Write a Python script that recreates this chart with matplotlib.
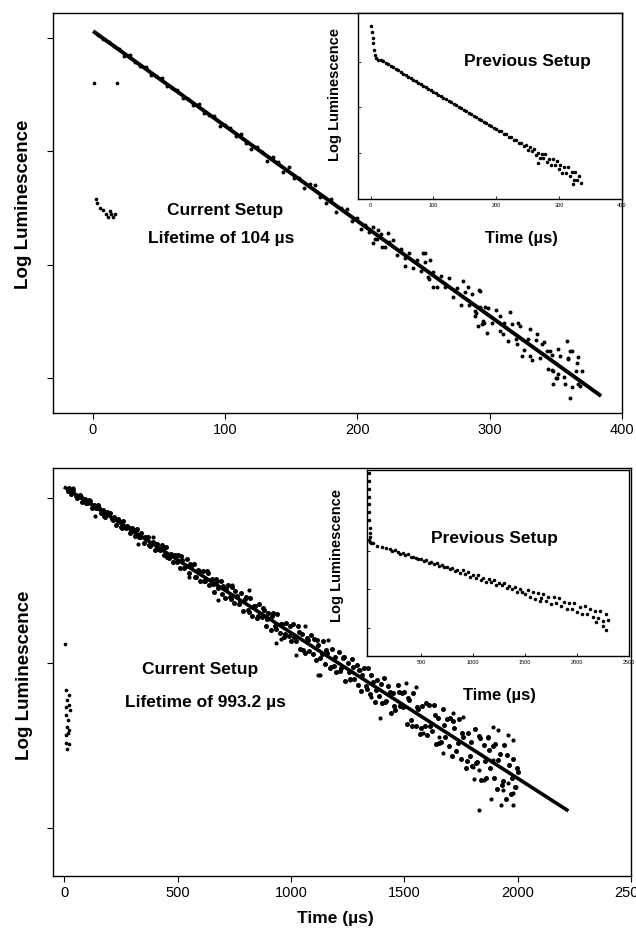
import matplotlib
matplotlib.use("Agg")
import matplotlib.pyplot as plt

plt.rcParams["font.family"] = ["Liberation Sans", "DejaVu Sans"]

# ---------------- painel superior: setup atual (0-400 us) ----------------
cur1_early_t = [1, 18, 2.3, 3.5, 5.3, 7.8, 10, 11.5, 13, 14, 15, 16.5]
cur1_early_y = [3.60, 3.60, 2.58, 2.54, 2.50, 2.48, 2.45, 2.42, 2.47, 2.45, 2.42, 2.45]

cur1_t = [4, 8, 12, 16,
          20, 24, 28, 32, 36, 40, 44, 48, 52, 56, 60, 64, 68, 72, 76, 80,
          84, 88, 92, 96, 100, 104, 108, 112, 116, 120, 124, 128, 132, 136,
          140, 144, 148, 152, 156, 160, 164, 168, 172, 176, 180, 184, 188,
          192, 196,
          200, 203, 206, 209, 212, 215, 218, 221, 224, 227, 230, 233, 236,
          239, 242, 245, 248, 251, 254, 257, 260, 263, 266, 269, 272, 275,
          278, 281, 284, 287, 290, 293, 296, 299, 302, 305, 308, 311, 314,
          317, 320, 323, 326, 329, 332, 335, 338, 341, 344, 347, 350, 353,
          356, 359, 362, 365, 368]
cur1_y = [4.03, 3.99, 3.96, 3.93,
          3.902, 3.838, 3.845, 3.791, 3.748, 3.744, 3.670, 3.667, 3.643,
          3.580, 3.556, 3.542, 3.469, 3.465, 3.412, 3.418, 3.334, 3.321,
          3.307, 3.224, 3.230, 3.206, 3.133, 3.149, 3.076, 3.022, 3.038,
          2.995, 2.911, 2.948, 2.904, 2.820, 2.857, 2.763, 2.760, 2.676,
          2.712, 2.699, 2.595, 2.542, 2.578, 2.464, 2.501, 2.487, 2.384,
          2.410, 2.315, 2.350, 2.284, 2.329, 2.224, 2.269, 2.154, 2.198,
          2.213, 2.088, 2.133, 2.058, 2.102, 1.967, 2.042, 1.947, 2.022,
          1.876, 1.931, 1.806, 1.901, 1.806, 1.880, 1.715, 1.790, 1.645,
          1.760, 1.644, 1.739, 1.574, 1.629, 1.484, 1.618, 1.483, 1.598,
          1.413, 1.488, 1.322, 1.477, 1.342, 1.457, 1.242, 1.346, 1.161,
          1.336, 1.171, 1.316, 1.080, 1.205, 1.000, 1.195, 1.010, 1.174,
          0.919, 1.064, 0.929]

cur1_out_t = [215.7, 213.2, 236, 251, 254.8, 253.5, 257.3, 280, 283.8, 292.6,
              293.9, 297.7, 296.4, 307.8, 315.3, 321.6, 310.3, 320.4, 330.4,
              324.1, 330.4, 335.5, 339.3, 345.6, 351.8, 358.2, 360.7, 359.4,
              365.7, 369.5, 348.1, 348.1, 357, 360.7, 367, 350.6, 212, 219,
              223.3, 249.8, 288.8, 291.3, 295, 292.1, 288.8, 343.1, 346.8,
              351.8, 361.9, 367]
cur1_out_y = [2.307, 2.227, 1.991, 2.10, 2.04, 1.888, 1.80, 1.858, 1.80, 1.77,
              1.475, 1.40, 1.622, 1.549, 1.578, 1.48, 1.387, 1.298, 1.195,
              1.195, 1.43, 1.387, 1.298, 1.239, 1.254, 1.327, 1.239, 1.165,
              1.135, 1.062, 1.062, 0.944, 0.944, 0.826, 0.944, 1.0, 2.19, 2.153,
              2.277, 2.10, 1.549, 1.46, 1.504, 1.776, 1.593, 1.239, 1.068,
              1.033, 1.239, 1.186]

cur1_fit_t = [1.5, 383]
cur1_fit_y = [4.05, 0.85]

# inset superior: setup anterior (0-400 us)
prev1_t = [1.1, 2.1, 3.7, 3.7, 4.8, 6.4, 9, 12,
           16, 20, 24, 28, 32, 36, 40, 44, 48, 52, 56, 60, 64, 68, 72, 76,
           80, 84, 88, 92, 96, 100, 104, 108, 112, 116, 120, 124, 128, 132,
           136, 140, 144, 148, 152, 156, 160, 164, 168, 172, 176, 180, 184,
           188, 192, 196, 200, 204, 208, 212, 216, 220, 224, 228, 232, 236,
           240, 244,
           248, 251, 254, 257, 260, 263, 266, 269, 272, 275, 278, 281, 284,
           287, 290, 293, 296, 299, 302, 305, 308, 311, 314, 317, 320, 323,
           326, 329, 332, 335, 266, 322]
prev1_y = [3.79, 3.67, 3.52, 3.41, 3.26, 3.15, 3.08, 3.05,
           3.044, 3.016, 2.972, 2.950, 2.905, 2.884, 2.840, 2.818, 2.785,
           2.741, 2.719, 2.676, 2.653, 2.609, 2.588, 2.543, 2.521, 2.478,
           2.456, 2.411, 2.390, 2.345, 2.323, 2.280, 2.258, 2.213, 2.192,
           2.147, 2.126, 2.080, 2.060, 2.015, 1.994, 1.948, 1.928, 1.882,
           1.862, 1.816, 1.796, 1.750, 1.731, 1.684, 1.664, 1.618, 1.599,
           1.551, 1.533, 1.486, 1.468, 1.419, 1.402, 1.353, 1.336, 1.287,
           1.270, 1.220, 1.205, 1.154,
           1.160, 1.065, 1.131, 1.036, 1.091, 0.956, 1.002, 0.887, 0.972,
           0.877, 0.963, 0.798, 0.863, 0.728, 0.854, 0.719, 0.824, 0.639,
           0.735, 0.560, 0.695, 0.560, 0.686, 0.481, 0.576, 0.401, 0.567,
           0.402, 0.487, 0.322, 0.78, 0.30]

# ---------------- painel inferior: setup atual (0-2500 us) ----------------
cur2_early_t = [3, 7, 22, 12, 19, 7, 23, 9, 16, 12, 19, 7, 16, 9, 19, 12]
cur2_early_y = [2.115, 1.836, 1.806, 1.776, 1.745, 1.735, 1.715, 1.685,
                1.655, 1.614, 1.594, 1.564, 1.574, 1.513, 1.509, 1.477]

cur2_t = [20, 30, 40, 50, 60, 70, 80, 90,
          100, 110, 120, 130, 140, 150, 160, 170, 180, 190,
          200, 210, 220, 230, 240, 250, 260, 270, 280, 290,
          300, 310, 320, 330, 340, 350, 360, 370, 380, 390,
          400, 410, 420, 430, 440, 450, 460, 470, 480, 490,
          500, 510, 520, 530, 540, 550, 560, 570, 580, 590,
          600, 610, 620, 630, 640, 650, 660, 670, 680, 690,
          700, 710, 720, 730, 740, 750, 760, 770, 780, 790,
          800, 810, 820, 830, 840, 850, 860, 870, 880, 890,
          900, 910, 920, 930, 940, 950, 960, 970, 980, 990,
          1000, 1010, 1020, 1030, 1040, 1050, 1060, 1070, 1080, 1090,
          1100, 1110, 1120, 1130, 1140, 1150, 1160, 1170, 1180, 1190,
          1200, 1210, 1220, 1230, 1240, 1250, 1260, 1270, 1280, 1290,
          1300, 1310, 1320, 1330, 1340, 1350, 1360, 1370, 1380, 1390,
          1400, 1410, 1420, 1430, 1440, 1450, 1460, 1470, 1480, 1490,
          1500, 1510, 1520, 1530, 1540, 1550, 1560, 1570, 1580, 1590,
          1600, 1610, 1620, 1630, 1640, 1650, 1660, 1670, 1680, 1690,
          1700, 1710, 1720, 1730, 1740, 1750, 1760, 1770, 1780, 1790,
          1800, 1810, 1820, 1830, 1840, 1850, 1860, 1870, 1880, 1890,
          1900, 1910, 1920, 1930, 1940, 1950, 1960, 1970, 1980, 1990, 2000]
cur2_y = [3.056, 3.023, 3.049, 3.010, 3.011, 3.017, 2.973, 2.995,
          2.966, 2.987, 2.938, 2.959, 2.935, 2.957, 2.908, 2.924, 2.885, 2.911,
          2.908, 2.869, 2.885, 2.836, 2.862, 2.823, 2.860, 2.816, 2.822, 2.788,
          2.814, 2.770, 2.812, 2.763, 2.784, 2.725, 2.756, 2.762, 2.709, 2.730,
          2.681, 2.722, 2.683, 2.714, 2.656, 2.702, 2.633, 2.659, 2.610, 2.651,
          2.653, 2.574, 2.625, 2.576, 2.632, 2.544, 2.580, 2.601, 2.522, 2.563,
          2.495, 2.556, 2.497, 2.558, 2.469, 2.510, 2.432, 2.508, 2.454, 2.495,
          2.467, 2.393, 2.469, 2.400, 2.461, 2.362, 2.408, 2.355, 2.421, 2.317,
          2.398, 2.320, 2.396, 2.282, 2.343, 2.274, 2.355, 2.277, 2.323, 2.224,
          2.300, 2.201, 2.302, 2.224, 2.295, 2.181, 2.237, 2.158, 2.239, 2.160,
          2.132, 2.233, 2.134, 2.225, 2.087, 2.178, 2.059, 2.150, 2.071, 2.167,
          2.144, 2.015, 2.106, 2.027, 2.133, 1.995, 2.061, 1.967, 2.083, 1.984,
          1.946, 2.067, 1.968, 2.029, 1.890, 2.001, 1.903, 2.024, 1.905, 1.986,
          1.957, 1.829, 1.970, 1.861, 1.972, 1.813, 1.884, 1.766, 1.897, 1.798,
          1.759, 1.910, 1.771, 1.863, 1.694, 1.815, 1.716, 1.867, 1.738, 1.820,
          1.821, 1.632, 1.773, 1.654, 1.816, 1.617, 1.718, 1.569, 1.740, 1.621,
          1.563, 1.744, 1.585, 1.746, 1.507, 1.668, 1.520, 1.721, 1.552, 1.663,
          1.665, 1.436, 1.607, 1.468, 1.659, 1.420, 1.551, 1.363, 1.574, 1.435,
          1.376, 1.597, 1.399, 1.560, 1.291, 1.502, 1.303, 1.554, 1.366, 1.497,
          1.508, 1.239, 1.450, 1.261, 1.503, 1.174, 1.385, 1.206, 1.417, 1.248,
          1.340]

# segunda leva de leituras, entre as anteriores
cur2b_t = [15, 35, 55, 75, 95, 115, 135, 155, 175, 195,
           215, 235, 255, 275, 295, 315, 335, 355, 375, 395,
           415, 435, 455, 475, 495, 515, 535, 555, 575, 595,
           615, 635, 655, 675, 695, 715, 735, 755, 775, 795,
           815, 835, 855, 875, 895, 915, 935, 955, 975, 995,
           1015, 1035, 1055, 1075, 1095, 1115, 1135, 1155, 1175, 1195,
           1215, 1235, 1255, 1275, 1295, 1315, 1335, 1355, 1375, 1395,
           1415, 1435, 1455, 1475, 1495, 1515, 1535, 1555, 1575, 1595,
           1615, 1635, 1655, 1675, 1695, 1715, 1735, 1755, 1775, 1795,
           1815, 1835, 1855, 1875, 1895, 1915, 1935, 1955, 1975, 1995]
cur2b_y = [3.041, 3.049, 2.996, 3.004, 2.966, 2.983, 2.941, 2.939, 2.892, 2.900,
           2.864, 2.873, 2.819, 2.827, 2.790, 2.806, 2.765, 2.763, 2.715, 2.724,
           2.688, 2.696, 2.643, 2.651, 2.613, 2.650, 2.584, 2.598, 2.521, 2.555,
           2.494, 2.544, 2.478, 2.493, 2.415, 2.449, 2.388, 2.438, 2.372, 2.387,
           2.309, 2.343, 2.282, 2.332, 2.267, 2.281, 2.203, 2.238, 2.176, 2.226,
           2.157, 2.187, 2.079, 2.140, 2.056, 2.141, 2.051, 2.081, 1.974, 2.034,
           1.950, 2.035, 1.945, 1.975, 1.868, 1.928, 1.845, 1.929, 1.839, 1.870,
           1.762, 1.822, 1.739, 1.823, 1.733, 1.788, 1.620, 1.733, 1.605, 1.757,
           1.620, 1.682, 1.514, 1.627, 1.499, 1.651, 1.514, 1.576, 1.408, 1.521,
           1.393, 1.546, 1.408, 1.470, 1.303, 1.415, 1.287, 1.440, 1.302, 1.364]

cur2_out_t = [1831, 1882, 1926, 1978, 1934, 1978, 1992, 1956, 1809, 1853,
              1831, 1890, 1912, 1956, 1978, 1868, 1757, 1714, 1633, 1552,
              1508, 1479, 1391, 1354, 1303, 1229, 1163, 1127, 1259, 1655,
              1670, 1581, 1802, 1890, 323, 393, 550, 679, 741, 816, 936, 958,
              1024, 1119, 1061, 136, 37]
cur2_out_y = [1.109, 1.174, 1.139, 1.139, 1.23, 1.21, 1.25, 1.27, 1.30, 1.29,
              1.35, 1.614, 1.594, 1.564, 1.533, 1.544, 1.675, 1.695, 1.745,
              1.857, 1.877, 1.745, 1.665, 1.796, 1.958, 2.038, 2.139, 1.927,
              1.897, 1.553, 1.453, 1.574, 1.372, 1.412, 2.72, 2.765, 2.523,
              2.382, 2.469, 2.442, 2.119, 2.143, 2.048, 1.927, 2.226, 2.887,
              3.056]

cur2_fit_t = [5, 2217]
cur2_fit_y = [3.06, 1.11]

# inset inferior: setup anterior (0-2500 us)
prev2_t = [1, 2, 2, 3, 3, 4, 4, 5, 6, 8,
           0, 10, 20, 40, 80, 120, 160,
           200, 225, 250, 275, 300, 325, 350, 375, 400, 425, 450, 475,
           500, 525, 550, 575, 600, 625, 650, 675, 700, 725, 750, 775,
           800, 825, 850, 875, 900, 925, 950, 975, 1000, 1025, 1050, 1075,
           1100, 1125, 1150, 1175, 1200, 1225, 1250, 1275, 1300, 1325,
           1350, 1375, 1400, 1425, 1450, 1475,
           1500, 1525, 1550, 1575, 1600, 1625, 1650, 1675, 1700, 1725,
           1750, 1775, 1800, 1825, 1850, 1875, 1900, 1925, 1950, 1975,
           2000, 2025, 2050, 2075, 2100, 2125, 2150, 2175, 2200, 2225,
           2250, 2275, 2300,
           2280, 2250, 2180, 1640]
prev2_y = [5.0, 4.8, 4.6, 4.4, 4.2, 4.0, 3.8, 3.6, 3.45, 3.35,
           3.27, 3.22, 3.20, 3.19, 3.13, 3.09, 3.06,
           3.042, 3.001, 3.010, 2.969, 2.928, 2.937, 2.896, 2.905, 2.844,
           2.853, 2.822, 2.786, 2.800, 2.749, 2.753, 2.697, 2.706, 2.665,
           2.674, 2.613, 2.627, 2.581, 2.590, 2.534,
           2.558, 2.467, 2.506, 2.435, 2.494, 2.403, 2.442, 2.331, 2.370,
           2.309, 2.363, 2.257, 2.296, 2.205, 2.269, 2.188, 2.242, 2.126,
           2.180, 2.109, 2.163, 2.037, 2.091, 2.010, 2.074, 1.943, 2.022,
           1.931,
           1.880, 1.999, 1.808, 1.927, 1.756, 1.905, 1.774, 1.893, 1.692,
           1.811, 1.620, 1.799, 1.638, 1.767, 1.576, 1.665, 1.484, 1.663,
           1.502, 1.651, 1.430, 1.549, 1.378, 1.577, 1.366, 1.505, 1.284,
           1.433, 1.272, 1.431, 1.190, 1.359, 1.218,
           0.95, 1.05, 1.15, 1.70]

W, H = 636, 943
fig = plt.figure(figsize=(W / 100, H / 100), dpi=100)


def box(x0, y0, x1, y1):
    # pixels (topo-esquerda) -> fração da figura
    return [x0 / W, 1 - y1 / H, (x1 - x0) / W, (y1 - y0) / H]


BOLD = dict(fontweight="bold")

# ---- principal superior
ax1 = fig.add_axes(box(53, 13, 622, 413))
ax1.scatter(cur1_t, cur1_y, s=8, c="k", linewidths=0)
ax1.scatter(cur1_out_t, cur1_out_y, s=8, c="k", linewidths=0)
ax1.scatter(cur1_early_t, cur1_early_y, s=7, c="k", linewidths=0)
ax1.plot(cur1_fit_t, cur1_fit_y, color="k", lw=2.8)
ax1.set_xlim(-30, 400)
ax1.set_ylim(0.69, 4.22)
ax1.set_xticks([0, 100, 200, 300, 400])
ax1.set_yticks([1, 2, 3, 4])
ax1.set_yticklabels([])
ax1.tick_params(labelsize=10.5, length=4, width=0.8, direction="out")
ax1.set_ylabel("Log Luminescence", fontsize=13.5, **BOLD)
ax1.yaxis.label.set_va("center")
ax1.yaxis.set_label_coords(-0.051, 0.5225)
ax1.text(0.302, 0.5075, "Current Setup", transform=ax1.transAxes,
         ha="center", va="center", fontsize=12.5, **BOLD)
ax1.text(0.295, 0.4375, "Lifetime of 104 \u00b5s", transform=ax1.transAxes,
         ha="center", va="center", fontsize=12.5, **BOLD)

# ---- inset superior
in1 = fig.add_axes(box(358, 13, 622, 199))
in1.set_facecolor("white")
in1.scatter(prev1_t, prev1_y, s=6.5, c="k", linewidths=0)
in1.set_xlim(-20, 400)
in1.set_ylim(-0.02, 4.08)
in1.set_xticks([0, 100, 200, 300, 400])
in1.set_yticks([1, 2, 3])
in1.set_yticklabels([])
in1.tick_params(labelsize=4, length=2, width=0.6, direction="in", pad=3)
in1.set_ylabel("Log Luminescence", fontsize=10.5, **BOLD)
in1.yaxis.label.set_va("center")
in1.yaxis.set_label_coords(-0.087, 0.56)
in1.set_xlabel("Time (\u00b5s)", fontsize=12, **BOLD)
in1.xaxis.label.set_va("center")
in1.xaxis.set_label_coords(0.62, -0.21)
in1.text(0.64, 0.737, "Previous Setup", transform=in1.transAxes,
         ha="center", va="center", fontsize=12.5, **BOLD)

# ---- principal inferior
ax2 = fig.add_axes(box(53, 468, 631, 876))
ax2.scatter(cur2_t, cur2_y, s=13, c="k", linewidths=0)
ax2.scatter(cur2b_t, cur2b_y, s=13, c="k", linewidths=0)
ax2.scatter(cur2_out_t, cur2_out_y, s=9, c="k", linewidths=0)
ax2.scatter(cur2_early_t, cur2_early_y, s=7, c="k", linewidths=0)
ax2.plot(cur2_fit_t, cur2_fit_y, color="k", lw=2.6)
ax2.set_xlim(-50, 2500)
ax2.set_ylim(0.71, 3.18)
ax2.set_xticks([0, 500, 1000, 1500, 2000, 2500])
ax2.set_yticks([1, 2, 3])
ax2.set_yticklabels([])
ax2.tick_params(labelsize=10.5, length=4, width=0.8, direction="out")
ax2.set_ylabel("Log Luminescence", fontsize=13.5, **BOLD)
ax2.yaxis.label.set_va("center")
ax2.yaxis.set_label_coords(-0.050, 0.493)
ax2.set_xlabel("Time (\u00b5s)", fontsize=12.5, **BOLD)
ax2.xaxis.label.set_va("center")
ax2.xaxis.set_label_coords(0.488, -0.103)
ax2.text(0.254, 0.505, "Current Setup", transform=ax2.transAxes,
         ha="center", va="center", fontsize=12.5, **BOLD)
ax2.text(0.263, 0.426, "Lifetime of 993.2 \u00b5s", transform=ax2.transAxes,
         ha="center", va="center", fontsize=12.5, **BOLD)

# ---- inset inferior
in2 = fig.add_axes(box(367, 470, 629, 656))
in2.set_facecolor("white")
in2.scatter(prev2_t, prev2_y, s=6.5, c="k", linewidths=0)
in2.set_xlim(-20, 2500)
in2.set_ylim(0.28, 5.09)
in2.set_xticks([500, 1000, 1500, 2000, 2500])
in2.set_yticks([1, 2, 3, 4])
in2.set_yticklabels([])
in2.tick_params(labelsize=4, length=2, width=0.6, direction="in", pad=3)
in2.set_ylabel("Log Luminescence", fontsize=10.5, **BOLD)
in2.yaxis.label.set_va("center")
in2.yaxis.set_label_coords(-0.115, 0.543)
in2.set_xlabel("Time (\u00b5s)", fontsize=12, **BOLD)
in2.xaxis.label.set_va("center")
in2.xaxis.set_label_coords(0.504, -0.21)
in2.text(0.485, 0.634, "Previous Setup", transform=in2.transAxes,
         ha="center", va="center", fontsize=12.5, **BOLD)

for a in (ax1, in1, ax2, in2):
    for sp in a.spines.values():
        sp.set_linewidth(1.0)

fig.savefig("out.png", dpi=100)
